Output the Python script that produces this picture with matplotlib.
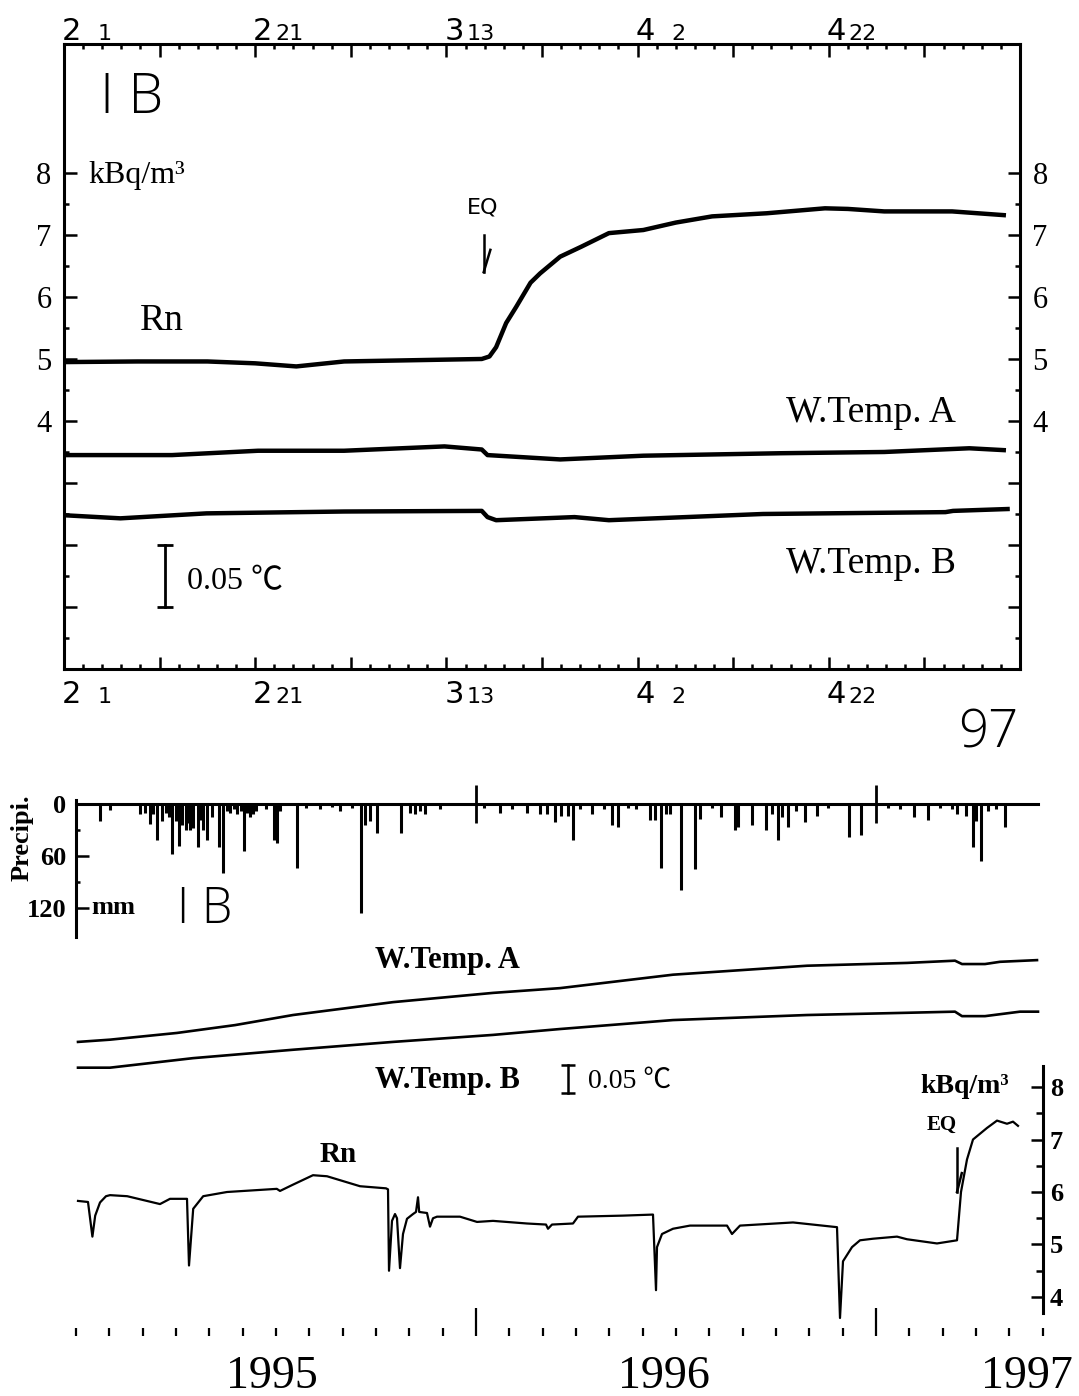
import numpy as np
import matplotlib
matplotlib.use('Agg')
import matplotlib.pyplot as plt
from matplotlib.ticker import FixedLocator, FuncFormatter
from matplotlib.transforms import blended_transform_factory

plt.rcParams['font.family'] = ['Liberation Serif', 'Noto Sans CJK JP', 'DejaVu Sans']
plt.rcParams['axes.linewidth'] = 2.2

# ---------------- Feb - May 1997 close-up (days after Feb 1) ----------------
rn_day = [0, 7.7, 15, 20, 24.3, 29.3, 36.5, 43.7, 44.5, 45.2, 46.25, 47.3, 48.8,
          49.8, 51.9, 54.1, 57.0, 60.6, 64, 67.8, 73.5, 79.6, 82, 85.8, 92.9, 98.3]
rn_val = [4.95, 4.96, 4.96, 4.93, 4.88, 4.96, 4.98, 5.0, 5.04, 5.19, 5.58, 5.84, 6.23,
          6.38, 6.65, 6.81, 7.03, 7.08, 7.2, 7.30, 7.35, 7.43, 7.42, 7.38, 7.38, 7.32]

# water temperatures, relative deg C
ta_day = [0, 11.3, 20.3, 29.3, 39.8, 43.7, 44.3, 51.9, 60.6, 75, 85.8, 94.7, 98.3]
ta_val = [0.1725, 0.1725, 0.176, 0.176, 0.1795, 0.177, 0.1725, 0.169, 0.172,
          0.174, 0.175, 0.178, 0.1765]
tb_day = [0, 5.9, 14.9, 29.3, 43.7, 44.3, 45.2, 53.4, 57, 73.1, 92.2, 93, 98.7]
tb_val = [0.124, 0.1215, 0.1255, 0.127, 0.1275, 0.1225, 0.120, 0.1225, 0.120,
          0.125, 0.1265, 0.1275, 0.129]

eq_day = 43.9

tick_day = [0, 20, 40, 60, 80]
tick_month = ['2', '2', '3', '4', '4']
tick_date = ['1', '21', '13', '2', '22']

# ---------------- 1995 - 1997 record (decimal years) ----------------
rain_t = [1995.060, 1995.084, 1995.160, 1995.173, 1995.185, 1995.193, 1995.203,
          1995.215, 1995.225, 1995.233, 1995.240, 1995.250, 1995.258, 1995.265,
          1995.275, 1995.280, 1995.285, 1995.293, 1995.305, 1995.312, 1995.318,
          1995.328, 1995.340, 1995.358, 1995.368, 1995.378, 1995.385, 1995.395,
          1995.403, 1995.412, 1995.420, 1995.428, 1995.435, 1995.443, 1995.450,
          1995.475, 1995.495, 1995.503, 1995.510, 1995.553, 1995.575, 1995.610,
          1995.640, 1995.660, 1995.690, 1995.713, 1995.723, 1995.735, 1995.753,
          1995.813, 1995.835, 1995.848, 1995.860, 1995.873, 1995.910, 1996.020,
          1996.060, 1996.090, 1996.128, 1996.160, 1996.178, 1996.198, 1996.213,
          1996.230, 1996.243, 1996.260, 1996.290, 1996.320, 1996.340, 1996.355,
          1996.380, 1996.400, 1996.435, 1996.448, 1996.463, 1996.475, 1996.485,
          1996.513, 1996.548, 1996.560, 1996.590, 1996.613, 1996.648, 1996.655,
          1996.690, 1996.725, 1996.740, 1996.755, 1996.765, 1996.780, 1996.800,
          1996.823, 1996.853, 1996.880, 1996.933, 1996.963, 1997.030, 1997.060,
          1997.095, 1997.130, 1997.160, 1997.190, 1997.203, 1997.225, 1997.243,
          1997.250, 1997.263, 1997.280, 1997.300, 1997.323]
rain_mm = [20, 7, 12, 10, 23, 12, 42, 20, 10, 15, 58, 20, 48, 24, 30, 22, 30, 28, 50,
           18, 30, 42, 15, 50, 80, 8, 10, 6, 12, 8, 54, 10, 15, 12, 8, 6, 42, 45, 8,
           74, 5, 6, 4, 8, 5, 126, 24, 20, 34, 34, 10, 12, 8, 12, 6, 5, 10, 6, 10,
           12, 12, 21, 14, 14, 42, 6, 12, 6, 24, 27, 5, 6, 18, 18, 74, 12, 12, 100,
           75, 17, 5, 15, 30, 27, 24, 30, 12, 42, 15, 27, 8, 21, 14, 5, 38, 36, 5,
           6, 15, 18, 5, 6, 12, 14, 50, 20, 66, 8, 6, 27]

rn2_t = [1995.005, 1995.030, 1995.041, 1995.048, 1995.060, 1995.075, 1995.085,
         1995.128, 1995.210, 1995.235, 1995.2775, 1995.2825, 1995.293, 1995.318,
         1995.3775, 1995.502, 1995.510, 1995.5425, 1995.5925, 1995.6275, 1995.710,
         1995.775, 1995.780, 1995.7825, 1995.790, 1995.7975, 1995.8025, 1995.810,
         1995.8175, 1995.8275, 1995.8425, 1995.850, 1995.855, 1995.858, 1995.8775,
         1995.885, 1995.8925, 1995.9025, 1995.960, 1996.0025, 1996.0425, 1996.1275,
         1996.175, 1996.180, 1996.190, 1996.2425, 1996.255, 1996.3675, 1996.4425,
         1996.450, 1996.4525, 1996.465, 1996.4925, 1996.535, 1996.6275, 1996.640,
         1996.660, 1996.7925, 1996.9025, 1996.910, 1996.9175, 1996.940, 1996.960,
         1996.9925, 1997.0525, 1997.0775, 1997.1525, 1997.2025, 1997.2125,
         1997.2275, 1997.2425, 1997.2775, 1997.3025, 1997.3275, 1997.3425, 1997.355]
rn2_val = [5.83, 5.81, 5.15, 5.55, 5.80, 5.92, 5.94, 5.92, 5.77, 5.87, 5.87, 4.60,
           5.68, 5.92, 6.00, 6.06, 6.02, 6.14, 6.32, 6.30, 6.11, 6.07, 6.05, 4.50,
           5.45, 5.58, 5.50, 4.55, 5.20, 5.49, 5.58, 5.62, 5.90, 5.62, 5.60, 5.34,
           5.50, 5.53, 5.53, 5.43, 5.45, 5.40, 5.38, 5.30, 5.38, 5.40, 5.53, 5.55,
           5.57, 4.13, 4.95, 5.20, 5.30, 5.36, 5.36, 5.20, 5.36, 5.42, 5.33, 3.60,
           4.68, 4.95, 5.08, 5.11, 5.15, 5.10, 5.02, 5.08, 6.00, 6.62, 7.00, 7.22,
           7.36, 7.30, 7.34, 7.26]

ta2_t = [1995.005, 1995.085, 1995.2525, 1995.3975, 1995.5425, 1995.7925, 1996.0425,
         1996.21, 1996.4925, 1996.8275, 1997.0775, 1997.1975, 1997.215, 1997.2725,
         1997.31, 1997.4025]
ta2_val = [0.525, 0.529, 0.541, 0.555, 0.573, 0.596, 0.6125, 0.621, 0.645, 0.661,
           0.666, 0.670, 0.664, 0.664, 0.668, 0.671]
tb2_t = [1995.005, 1995.085, 1995.2925, 1995.5425, 1995.7925, 1996.0425, 1996.21,
         1996.4925, 1996.8275, 1997.0775, 1997.1975, 1997.215, 1997.2725, 1997.36,
         1997.405]
tb2_val = [0.479, 0.479, 0.496, 0.511, 0.525, 0.5375, 0.548, 0.564, 0.573, 0.577,
           0.579, 0.571, 0.571, 0.579, 0.579]

eq_t = 1997.2025
year_labels = ['1995', '1996', '1997']

W, H = 1079, 1396
THIN = ['Open Sans', 'DejaVu Sans']


def box(x0, y0, x1, y1):
    return [x0 / W, 1 - y1 / H, (x1 - x0) / W, (y1 - y0) / H]


fig = plt.figure(figsize=(W / 100, H / 100), dpi=100)

# ======================= upper panel =======================
ax = fig.add_axes(box(64, 44, 1020, 669))
axT = ax.twinx()
ax.set_xlim(0, 100)
ax.set_ylim(0, 10.08)
axT.set_ylim(0, 10.08 * 0.05)
axT.axis('off')

ax.plot(rn_day, rn_val, color='k', lw=3.2, solid_joinstyle='round')
axT.plot(ta_day, ta_val, color='k', lw=3.2)
axT.plot(tb_day, tb_val, color='k', lw=3.2)

ax.xaxis.set_major_locator(FixedLocator(np.arange(0, 101, 10)))
ax.xaxis.set_minor_locator(FixedLocator(np.arange(0, 101, 2)))
ax.yaxis.set_major_locator(FixedLocator(np.arange(1, 9)))
ax.yaxis.set_minor_locator(FixedLocator(np.arange(0.5, 8.5, 1)))
ax.yaxis.set_major_formatter(FuncFormatter(lambda v, p: '%d' % v if v >= 4 else ''))
ax.tick_params(which='both', direction='in', top=True, right=True, bottom=True,
               left=True, labelbottom=False, labelright=True, width=1.8)
ax.tick_params(which='major', length=9)
ax.tick_params(which='minor', length=3.5)
ax.tick_params(axis='y', labelsize=22, pad=9)

# month / day labels along both x axes
for d, m, dd in zip(tick_day, tick_month, tick_date):
    for yf, dy in ((1, 4), (0, -34)):
        ax.annotate(m, (d, yf), xycoords=('data', 'axes fraction'), xytext=(-2, dy),
                    textcoords='offset pixels', ha='left', va='baseline',
                    fontsize=22, family='DejaVu Sans')
        ax.annotate(dd, (d, yf), xycoords=('data', 'axes fraction'), xytext=(48, dy),
                    textcoords='offset pixels', ha='right', va='baseline',
                    fontsize=16, family='DejaVu Sans')

ax.text(3.8, 8.97, 'I B', fontsize=40, family=THIN, fontweight='light',
        va='baseline')
ax.text(2.6, 7.84, 'kBq/m³', fontsize=23, va='baseline')
ax.text(7.9, 5.47, 'Rn', fontsize=27, va='baseline')
ax.text(75.5, 3.98, 'W.Temp. A', fontsize=27, va='baseline')
ax.text(75.5, 1.55, 'W.Temp. B', fontsize=27, va='baseline')
ax.text(42.1, 7.35, 'EQ', fontsize=16, family='DejaVu Sans', va='baseline')

# EQ arrow
ax.plot([eq_day, eq_day], [7.0, 6.40], color='k', lw=1.8)
ax.plot([eq_day + 0.7, eq_day], [6.76, 6.40], color='k', lw=1.8)

# 0.05 degC scale bar
axT.plot([10.6, 10.6], [0.05, 0.10], color='k', lw=2)
axT.plot([10.6, 10.6], [0.05, 0.10], ls='none', marker='_', ms=12, mew=2, color='k')
axT.text(12.9, 0.0705, '0.05 ℃', fontsize=23, va='center')

fig.text(1018 / W, 1 - 747 / H, '97', fontsize=38, family=THIN, fontweight='light',
         ha='right', va='baseline')

# ======================= precipitation =======================
axp = fig.add_axes(box(76, 795, 1043, 937))
axp.set_xlim(1995, 1997.4175)
axp.set_ylim(153.8, -10.4)
axp.vlines(rain_t, 0, rain_mm, color='k', lw=2.2)
for s in ('right', 'bottom'):
    axp.spines[s].set_visible(False)
axp.spines['top'].set_position(('data', 0))
axp.spines['top'].set_bounds(1995, 1997.405)
axp.spines['left'].set_bounds(-4.6, 153.8)
axp.yaxis.set_major_locator(FixedLocator([0, 60, 120]))
axp.yaxis.set_minor_locator(FixedLocator([30, 90]))
axp.xaxis.set_major_locator(FixedLocator([1996, 1997]))
axp.xaxis.set_minor_locator(FixedLocator([]))
axp.tick_params(axis='y', which='both', direction='in', width=1.8, labelsize=19,
                pad=7, labelfontfamily='Liberation Serif')
axp.tick_params(axis='y', which='major', length=9)
axp.tick_params(axis='y', which='minor', length=3)
axp.tick_params(axis='x', which='major', direction='inout', length=28, width=2,
                top=True, bottom=False, labeltop=False, labelbottom=False)
for lab in axp.get_yticklabels():
    lab.set_fontweight('bold')
axp.text(1995.0375, 120, 'mm', fontsize=19, fontweight='bold', va='center')
axp.text(1995.2525, 137.6, 'I B', fontsize=35, family=THIN, fontweight='light',
         va='baseline')
fig.text(22 / W, 1 - 838 / H, 'Precipi.', rotation=90, fontsize=19,
         fontweight='bold', ha='center', va='center')

# ======================= long Rn record =======================
axr = fig.add_axes(box(76, 945, 1043, 1336))
axw = axr.twinx()
axr.set_xlim(1995, 1997.4175)
axr.set_ylim(3.257, 10.705)
axw.set_ylim(0, 0.698)
axw.axis('off')

axr.plot(rn2_t, rn2_val, color='k', lw=1.6)
axw.plot(ta2_t, ta2_val, color='k', lw=1.9)
axw.plot(tb2_t, tb2_val, color='k', lw=1.9)

for s in ('left', 'top', 'bottom'):
    axr.spines[s].set_visible(False)
axr.spines['right'].set_bounds(3.7, 8.4)
axr.yaxis.set_major_locator(FixedLocator(np.arange(4, 9)))
axr.yaxis.set_minor_locator(FixedLocator(np.arange(4.5, 8, 1)))
axr.tick_params(axis='y', which='both', direction='in', left=False, right=True,
                labelleft=False, labelright=True, width=1.8, labelsize=19, pad=5)
axr.tick_params(axis='y', which='major', length=9)
axr.tick_params(axis='y', which='minor', length=5)
for lab in axr.get_yticklabels():
    lab.set_fontweight('bold')

# monthly ticks, longer marks at the turn of each year
months = 1995 + np.arange(0, 30) / 12
axr.xaxis.set_major_locator(FixedLocator([1996, 1997]))
axr.xaxis.set_minor_locator(FixedLocator([m for m in months if m not in (1996, 1997)]))
axr.tick_params(axis='x', which='both', direction='in', width=1.6,
                labelbottom=False, top=False, bottom=True)
axr.tick_params(axis='x', which='major', length=20)
axr.tick_params(axis='x', which='minor', length=6)

trans = blended_transform_factory(axr.transData, axr.transAxes)
for x, lab in zip([1995.49, 1996.47, 1997.378], year_labels):
    axr.text(x, -0.133, lab, transform=trans, fontsize=33, ha='center', va='baseline')

axr.text(1995.7475, 10.27, 'W.Temp. A', fontsize=22, fontweight='bold', va='baseline')
axr.text(1995.7475, 7.98, 'W.Temp. B', fontsize=22, fontweight='bold', va='baseline')
axr.text(1995.61, 6.57, 'Rn', fontsize=21, fontweight='bold', va='baseline')
axr.text(1997.11, 7.886, 'kBq/m³', fontsize=20, fontweight='bold', va='baseline')
axr.text(1997.1275, 7.18, 'EQ', fontsize=15, fontweight='bold', va='baseline')

axr.plot([eq_t, eq_t], [6.84, 6.0], color='k', lw=1.8)
axr.plot([eq_t + 0.012, eq_t], [6.36, 6.0], color='k', lw=1.8)

axw.plot([1996.23, 1996.23], [0.434, 0.484], color='k', lw=1.8)
axw.plot([1996.23, 1996.23], [0.434, 0.484], ls='none', marker='_', ms=10, mew=1.8,
         color='k')
axw.text(1996.28, 0.443, '0.05 ℃', fontsize=20, va='baseline')

fig.savefig('out.png', dpi=100)
